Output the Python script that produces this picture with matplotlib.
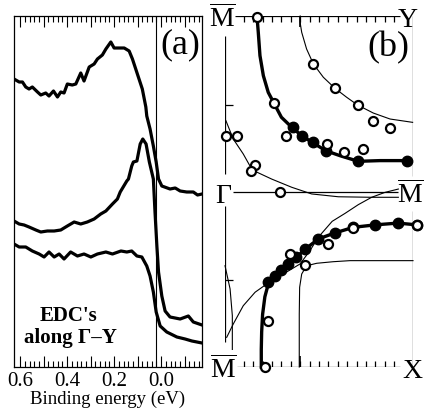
import numpy as np
import matplotlib
matplotlib.use("Agg")
import matplotlib.pyplot as plt
from matplotlib.ticker import FixedLocator, FixedFormatter

plt.rcParams['font.family'] = ['Liberation Serif', 'DejaVu Serif']
plt.rcParams['mathtext.fontset'] = 'custom'
plt.rcParams['mathtext.rm'] = 'Liberation Serif'

# ---- panel (a): EDCs, binding energy (eV) vs intensity (arb. units)
edc1_e = [0.626, 0.604, 0.590, 0.576, 0.562, 0.548, 0.526, 0.512, 0.491, 0.477,
          0.458, 0.441, 0.427, 0.413, 0.399, 0.378, 0.363, 0.342, 0.328, 0.306,
          0.285, 0.271, 0.250, 0.235, 0.214, 0.200, 0.179, 0.157, 0.136, 0.122,
          0.108, 0.094, 0.080, 0.065, 0.061, 0.047, 0.033, 0.021, 0.011, -0.003,
          -0.038, -0.060, -0.081, -0.109, -0.137, -0.155, -0.174]
edc1_i = [288, 285, 285, 280, 278, 280, 275, 272, 274, 271,
          276, 270, 275, 274, 283, 282, 283, 294, 286, 300,
          303, 308, 312, 318, 325, 319, 319, 319, 316, 308,
          298, 288, 278, 260, 251, 238, 221, 205, 188, 181,
          178, 179, 176, 175, 175, 172, 173]

edc2_e = [0.626, 0.604, 0.583, 0.562, 0.533, 0.512, 0.484, 0.455, 0.427, 0.399,
          0.370, 0.342, 0.314, 0.285, 0.257, 0.235, 0.207, 0.186, 0.174, 0.146,
          0.139, 0.125, 0.118, 0.103, 0.089, 0.078, 0.064, 0.050, 0.033, 0.026,
          0.018, 0.011, -0.003, -0.017, -0.038, -0.081, -0.116, -0.137, -0.174]
edc2_i = [146, 143, 142, 140, 137, 135, 136, 136, 137, 141,
          145, 143, 145, 148, 153, 156, 163, 168, 175, 186,
          188, 201, 205, 206, 223, 228, 223, 205, 188, 155,
          121, 95, 71, 56, 50, 48, 51, 45, 42]

edc3_e = [0.626, 0.604, 0.576, 0.548, 0.519, 0.498, 0.477, 0.455, 0.434, 0.413,
          0.385, 0.356, 0.328, 0.299, 0.271, 0.235, 0.207, 0.171, 0.146, 0.125,
          0.103, 0.082, 0.061, 0.047, 0.033, 0.021, 0.004, -0.024, -0.067, -0.102,
          -0.131, -0.174]
edc3_i = [123, 120, 120, 116, 113, 110, 115, 110, 113, 108,
          115, 111, 113, 110, 113, 115, 113, 116, 115, 116,
          111, 110, 101, 91, 75, 55, 41, 35, 30, 28,
          26, 24]

fermi_line = 0.02
major_ticks = [0.6, 0.5, 0.4, 0.3, 0.2, 0.1, 0.0, -0.1]
major_labels = ['0.6', '', '0.4', '', '0.2', '', '0.0', '']

# ---- panel (b): Fermi surface map, x: Gamma->M, y: -1 (X side) .. 1 (Y side)
fs_top_x = [0.170, 0.177, 0.186, 0.204, 0.230, 0.260, 0.300, 0.355, 0.408, 0.470,
            0.537, 0.612, 0.709, 0.824, 0.970]
fs_top_y = [1.000, 0.907, 0.774, 0.660, 0.565, 0.504, 0.423, 0.366, 0.318, 0.276,
            0.232, 0.204, 0.172, 0.176, 0.176]
fs_bot_x = [0.193, 0.193, 0.195, 0.200, 0.212, 0.232, 0.266, 0.300, 0.337, 0.380,
            0.425, 0.497, 0.585, 0.683, 0.800, 0.920, 1.020]
fs_bot_y = [-1.000, -0.900, -0.800, -0.700, -0.600, -0.520, -0.480, -0.450, -0.413, -0.375,
            -0.330, -0.270, -0.236, -0.204, -0.190, -0.180, -0.190]

filled_x = [0.360, 0.410, 0.470, 0.537, 0.707, 0.968,
            0.230, 0.266, 0.300, 0.337, 0.380, 0.425, 0.497, 0.585, 0.683, 0.800, 0.920, 1.020]
filled_y = [0.366, 0.318, 0.280, 0.232, 0.172, 0.175,
            -0.517, -0.480, -0.450, -0.413, -0.375, -0.330, -0.270, -0.238, -0.204, -0.190, -0.180, -0.190]

open_x = [0.172, 0.470, 0.585, 0.705, 0.789, 0.880, 0.260, 0.324, 0.540, 0.633,
          0.736, 0.005, 0.065, 0.160, 0.137, 0.290,
          0.213, 0.230, 0.346, 0.425, 0.550, 0.680, 1.020]
open_y = [0.993, 0.727, 0.588, 0.493, 0.403, 0.362, 0.504, 0.315, 0.270, 0.223,
          0.242, 0.315, 0.315, 0.153, 0.119, -0.005,
          -1.000, -0.736, -0.356, -0.420, -0.300, -0.210, -0.190]

# thin model contours
yarc_x = [0.400, 0.400, 0.408, 0.434, 0.470, 0.523, 0.585, 0.647, 0.705, 0.789, 0.878, 0.998]
yarc_y = [1.000, 0.960, 0.907, 0.812, 0.727, 0.651, 0.588, 0.537, 0.493, 0.447, 0.413, 0.394]
garc_x = [0.005, 0.044, 0.097, 0.142, 0.160, 0.248, 0.355, 0.461, 0.603, 0.780, 0.922]
garc_y = [0.403, 0.299, 0.214, 0.128, 0.115, 0.071, 0.024, -0.014, -0.030, -0.033, -0.033]
xarc_x = [0.009, 0.044, 0.097, 0.160, 0.222, 0.310, 0.399, 0.452, 0.496, 0.570, 0.638, 0.709, 0.780, 0.851, 0.922]
xarc_y = [-0.831, -0.755, -0.651, -0.574, -0.527, -0.470, -0.413, -0.337, -0.261, -0.170, -0.125, -0.075, -0.033, -0.005, 0.014]
corner_x = [0.395, 0.395, 0.397, 0.408, 0.434, 0.488, 0.576, 0.665, 1.000]
corner_y = [-1.000, -0.700, -0.546, -0.470, -0.423, -0.409, -0.400, -0.394, -0.394]
edge_x = [0.000, 0.027, 0.039, 0.039]
edge_y = [-0.423, -0.555, -0.707, -0.900]

fig = plt.figure(figsize=(4.24, 4.10), dpi=100)

# ================= (a)
ax = fig.add_axes([14 / 424, 42 / 410, 188 / 424, 351 / 410])
for e, i in [(edc1_e, edc1_i), (edc2_e, edc2_i), (edc3_e, edc3_i)]:
    ax.plot(e, i, color='black', lw=2.3, solid_joinstyle='round')
ax.axvline(fermi_line, color='black', lw=0.8)
ax.set_xlim(0.626, -0.174)
ax.set_ylim(0, 351)
ax.set_yticks([])
for s in ax.spines.values():
    s.set_linewidth(0.9)

ax.xaxis.set_major_locator(FixedLocator(major_ticks))
ax.xaxis.set_major_formatter(FixedFormatter(major_labels))
ax.xaxis.set_minor_locator(FixedLocator(np.arange(-0.16, 0.61, 0.02)))
ax.tick_params(axis='x', which='both', direction='in', top=True, bottom=True,
               labelsize=15, pad=3, width=0.8)
ax.tick_params(axis='x', which='major', length=8)
ax.tick_params(axis='x', which='minor', length=4)
ax.set_xlabel('Binding energy (eV)', fontsize=13.5, va='center')
ax.xaxis.set_label_coords(0.5, -0.088)

ax.text(-0.081, 323, '(a)', fontsize=26, ha='center', va='center')
ax.text(0.394, 52, "EDC's", fontsize=15, fontweight='bold', ha='center', va='center')
ax.text(0.387, 30, 'along Γ–Y', fontsize=15, fontweight='bold', ha='center', va='center')

# ================= (b)
bx = fig.add_axes([225 / 424, 42 / 410, 188 / 424, 351 / 410])
bx.set_xlim(0, 1)
bx.set_ylim(-1, 1)
bx.axis('off')

k = dict(color='black', lw=0.9, solid_capstyle='butt')
# frame lines
bx.plot([0.053, 0.93], [1, 1], **k)
bx.plot([0.064, 0.93], [-1, -1], **k)
bx.plot([0.044, 0.92], [0, 0], **k)
bx.plot([1, 1], [1, 0.088], **k)
bx.plot([1, 1], [-0.111, -1], **k)
bx.plot([0, 0], [0.886, 0.10], **k)
bx.plot([0, 0], [-0.081, -0.86], **k)
bx.plot([0, 0.045], [0.493, 0.493], **k)
bx.plot([0, 0.045], [-0.504, -0.504], **k)

ticks = np.arange(0.10, 0.91, 0.05)
bx.vlines(ticks, 1 - 0.035, 1, color='black', lw=0.9)
bx.vlines(ticks, -1, -1 + 0.035, color='black', lw=0.9)
bx.vlines([0.4], 1 - 0.06, 1, color='black', lw=1.2)
bx.vlines([0.4], -1, -1 + 0.06, color='black', lw=1.2)

for cx, cy in [(yarc_x, yarc_y), (garc_x, garc_y), (xarc_x, xarc_y),
               (corner_x, corner_y), (edge_x, edge_y)]:
    bx.plot(cx, cy, color='black', lw=0.8, clip_on=False)

bx.plot(fs_top_x, fs_top_y, color='black', lw=2.4, clip_on=False)
bx.plot(fs_bot_x, fs_bot_y, color='black', lw=2.4, clip_on=False)
bx.plot(filled_x, filled_y, 'o', color='black', ms=7.5, clip_on=False)
bx.plot(open_x, open_y, 'o', mfc='white', mec='black', mew=1.6, ms=6.5, clip_on=False)

mbar = r'$\overline{\mathrm{M}}$'
lab = dict(fontsize=20, ha='center', va='baseline', clip_on=False)
bx.text(-0.013, 0.945, mbar, **lab)
bx.text(0.973, 0.945, 'Y', **lab)
bx.text(-0.008, -0.06, 'Γ', **lab)
bx.text(0.984, -0.06, mbar, **lab)
bx.text(-0.008, -1.057, mbar, **lab)
bx.text(0.995, -1.057, 'X', **lab)
bx.text(0.867, 0.823, '(b)', fontsize=26, ha='center', va='center')

fig.savefig('out.png', dpi=100)
